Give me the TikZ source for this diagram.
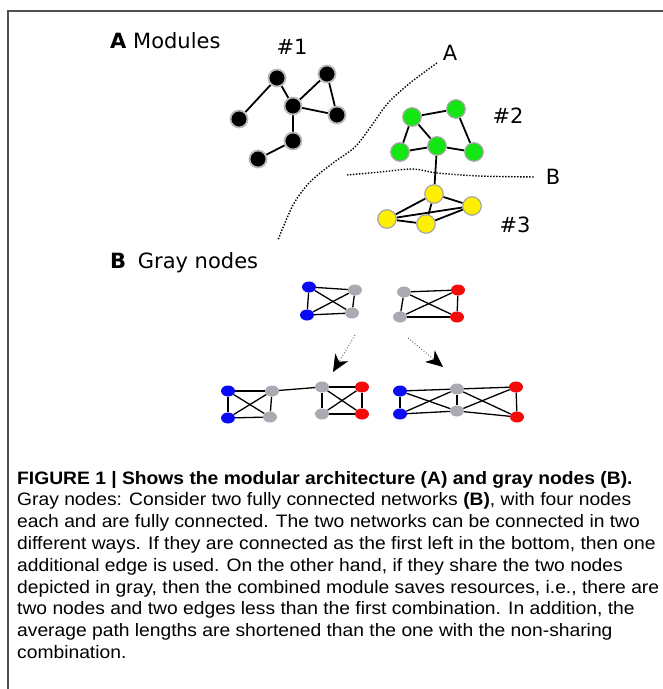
\documentclass[tikz,border=0pt]{standalone}
\usepackage{fontspec}
\setmainfont{Liberation Sans}
\newfontfamily\labfont{DejaVu Sans}
\newfontfamily\capfont[FakeStretch=1.07]{Liberation Sans}
\usetikzlibrary{arrows.meta,shapes.geometric,backgrounds}
\definecolor{nodegreen}{RGB}{20,230,20}
\definecolor{nodeyellow}{RGB}{255,240,0}
\definecolor{nodeblue}{RGB}{10,10,245}
\definecolor{nodered}{RGB}{245,10,10}
\definecolor{nodegray}{RGB}{170,170,178}
\definecolor{framegray}{RGB}{80,80,80}
\begin{document}
\begin{tikzpicture}[x=1pt,y=-1pt,
  every node/.style={inner sep=0pt},
  blk/.style={circle,fill=black,draw=gray!55,line width=1.8pt,minimum size=17pt},
  grn/.style={circle,fill=nodegreen,draw=gray!70,line width=1.2pt,minimum size=18.5pt},
  ylw/.style={circle,fill=nodeyellow,draw=gray!70,line width=1.2pt,minimum size=18.5pt},
  dot/.style={ellipse,fill=#1,minimum width=14pt,minimum height=11pt},
  lnk/.style={line width=1.8pt},
  thin lnk/.style={line width=1.3pt},
  sep line/.style={line width=1.4pt,dash pattern=on 1.4pt off 1.6pt},
  lab/.style={font=\labfont\fontsize{21}{21}\selectfont},
  captxt/.style={anchor=base west,font=\capfont\fontsize{18}{20}\selectfont},
  hint/.style={gray!70!black,line width=0.9pt,dotted,-{Stealth[length=17pt,width=15pt,inset=5pt,black]}}]
\useasboundingbox (0,0) rectangle (663,689);
\draw[framegray,line width=1.2pt] (663,11) -- (8,11) -- (8,689);

\node[lab,anchor=west] (titleA) at (110,41) {\textbf{A} Modules};
\node[lab] (hash1) at (292,47) {\#1};
\node[lab] (cutA) at (450,53) {A};
\node[lab] (hash2) at (508,116) {\#2};
\node[lab] (cutB) at (553,177) {B};
\node[lab] (hash3) at (515,225) {\#3};

\node[blk] (m1) at (239,119) {};
\node[blk] (m2) at (277,78) {};
\node[blk] (m3) at (293,106) {};
\node[blk] (m4) at (327,74) {};
\node[blk] (m5) at (337,115) {};
\node[blk] (m6) at (293,141) {};
\node[blk] (m7) at (258,159) {};

\node[grn] (g1) at (412,117) {};
\node[grn] (g2) at (456,109) {};
\node[grn] (g3) at (400,152) {};
\node[grn] (g4) at (437,146) {};
\node[grn] (g5) at (474,152) {};

\node[ylw] (y1) at (434,194) {};
\node[ylw] (y2) at (472,206) {};
\node[ylw] (y3) at (387,219) {};
\node[ylw] (y4) at (426,224) {};

\begin{scope}[on background layer]
\foreach \a/\b in {m1/m2,m2/m3,m3/m4,m4/m5,m3/m5,m3/m6,m6/m7,
  g1/g2,g1/g3,g1/g4,g2/g5,g3/g4,g4/g5,g4/y1,
  y1/y2,y1/y3,y1/y4,y2/y3,y2/y4,y3/y4}
  \draw[lnk] (\a) -- (\b);
\end{scope}

\draw[sep line] plot[smooth] coordinates {(437,63) (410,83) (388,103) (372,125) (355,147) (333,163) (310,182) (293,205) (278,240)};
\draw[sep line] plot[smooth] coordinates {(347,175) (380,172) (413,169) (437,173) (480,176) (535,177)};

\node[lab,anchor=west] (titleB) at (110,263) {\textbf{B}\hspace{5pt} Gray nodes};

\node[dot=nodeblue] (p1) at (309,287) {};
\node[dot=nodegray] (p2) at (355,290) {};
\node[dot=nodeblue] (p3) at (307,315) {};
\node[dot=nodegray] (p4) at (352,313) {};

\node[dot=nodegray] (q1) at (404,292) {};
\node[dot=nodered] (q2) at (458,290) {};
\node[dot=nodegray] (q3) at (400,317) {};
\node[dot=nodered] (q4) at (457,317) {};

\node[dot=nodeblue] (r1) at (228,391) {};
\node[dot=nodegray] (r2) at (272,391) {};
\node[dot=nodeblue] (r3) at (228,418) {};
\node[dot=nodegray] (r4) at (270,417) {};
\node[dot=nodegray] (s1) at (322,387) {};
\node[dot=nodered] (s2) at (362,387) {};
\node[dot=nodegray] (s3) at (322,414) {};
\node[dot=nodered] (s4) at (362,414) {};

\node[dot=nodeblue] (t1) at (400,391) {};
\node[dot=nodeblue] (t2) at (400,414) {};
\node[dot=nodegray] (t3) at (457,389) {};
\node[dot=nodegray] (t4) at (457,411) {};
\node[dot=nodered] (t5) at (516,387) {};
\node[dot=nodered] (t6) at (517,417) {};

\begin{scope}[on background layer]
\foreach \n in {p,q,r,s}
  \foreach \a/\b in {1/2,1/3,1/4,2/3,2/4,3/4}
    \draw[thin lnk] (\n\a) -- (\n\b);
\foreach \a/\b in {r2/s1,t1/t2,t1/t3,t1/t4,t2/t3,t2/t4,t3/t4,t3/t5,t3/t6,t4/t5,t4/t6,t5/t6}
  \draw[thin lnk] (\a) -- (\b);
\end{scope}

\coordinate (la) at (355,335);
\coordinate (lb) at (333,372);
\coordinate (ra) at (408,338);
\coordinate (rb) at (443,367);
\draw[hint] (la) -- (lb);
\draw[hint] (ra) -- (rb);

\node[captxt] (c1) at (17,484) {\textbf{FIGURE 1 | Shows the modular architecture (A) and gray nodes (B).}};
\node[captxt] (c2) at (17,505) {Gray nodes: Consider two fully connected networks \textbf{(B)}, with four nodes};
\node[captxt] (c3) at (17,527) {each and are fully connected. The two networks can be connected in two};
\node[captxt] (c4) at (17,549) {different ways. If they are connected as the first left in the bottom, then one};
\node[captxt] (c5) at (17,571) {additional edge is used. On the other hand, if they share the two nodes};
\node[captxt] (c6) at (17,593) {depicted in gray, then the combined module saves resources, i.e., there are};
\node[captxt] (c7) at (17,614) {two nodes and two edges less than the first combination. In addition, the};
\node[captxt] (c8) at (17,636) {average path lengths are shortened than the one with the non-sharing};
\node[captxt] (c9) at (17,658) {combination.};
\end{tikzpicture}
\end{document}
